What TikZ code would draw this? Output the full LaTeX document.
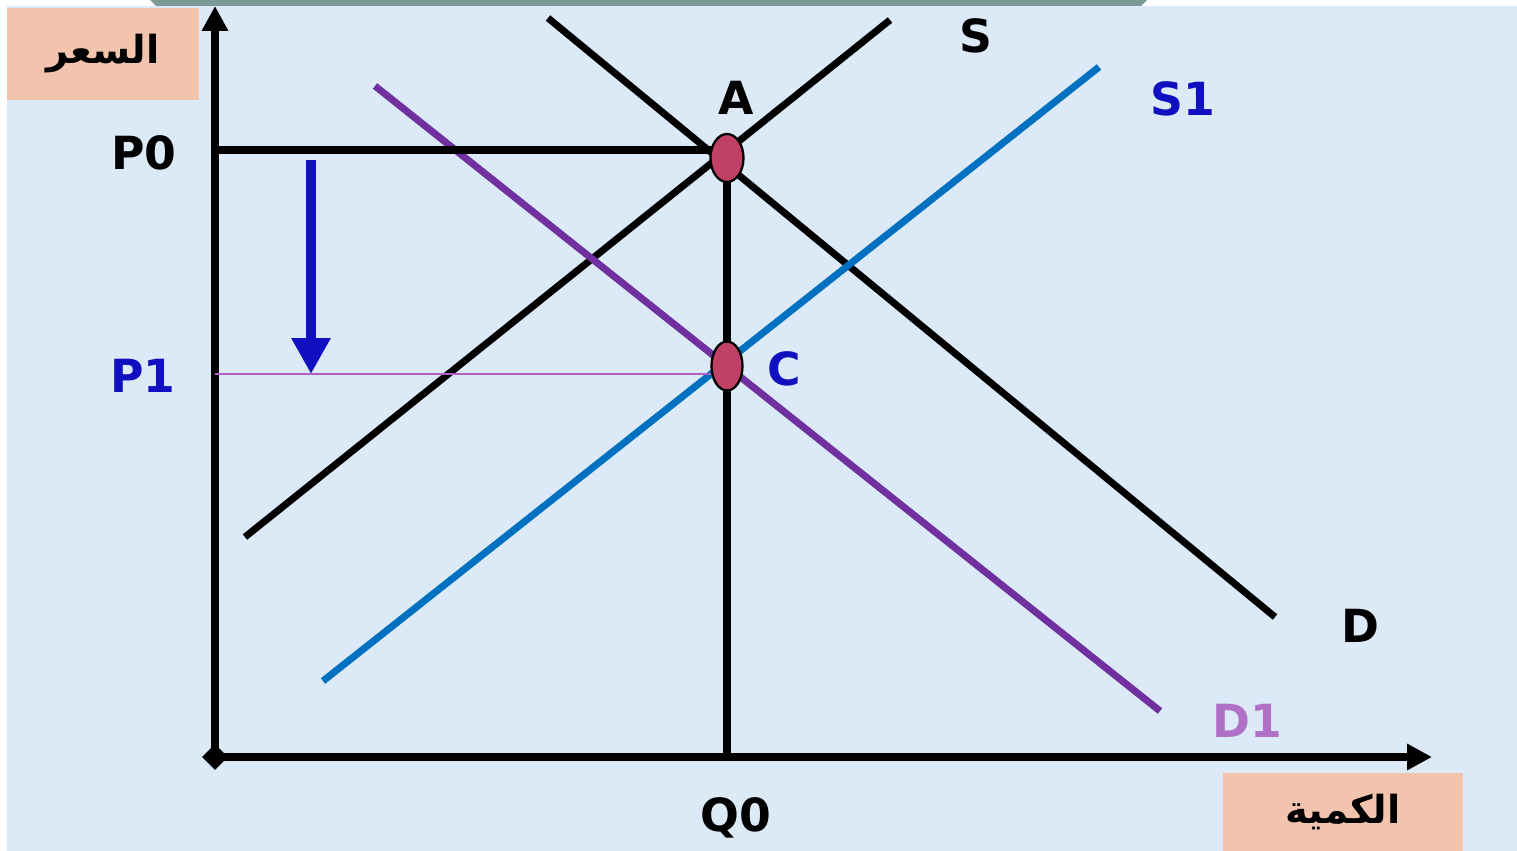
\documentclass[tikz,border=0pt]{standalone}
\usepackage{fontspec}
\setmainfont{DejaVu Sans}
\newfontfamily\arabicfont[Script=Arabic]{DejaVu Sans}
\TeXXeTstate=1
\usetikzlibrary{arrows.meta,positioning,shapes.geometric}
\definecolor{bgblue}{HTML}{DCE9F6}
\definecolor{topbar}{HTML}{7C9A97}
\definecolor{peach}{HTML}{F2C4AE}
\definecolor{sone}{HTML}{0070C0}
\definecolor{done}{HTML}{7030A0}
\definecolor{labblue}{HTML}{1010C0}
\definecolor{labpurple}{HTML}{B070C8}
\definecolor{pthin}{HTML}{B060C8}
\definecolor{pointred}{HTML}{C04068}
\begin{document}
\begin{tikzpicture}[x=0.02cm,y=-0.02cm,
every node/.style={font=\fontsize{26}{30}\selectfont\bfseries},
axis/.style={line width=4.6pt,-{Triangle[length=0.5cm,width=0.5cm]}},
curve/.style={line width=4pt},
eqpoint/.style={ellipse,draw,line width=1.3pt,fill=pointred,minimum width=0.66cm,minimum height=0.96cm,inner sep=0pt},
peachbox/.style={fill=peach,draw=none,inner sep=0pt,font=\fontsize{22}{26}\selectfont\bfseries\arabicfont}]
\useasboundingbox (0,0) rectangle (1517,851);
% background
\fill[bgblue] (7,6) rectangle (1517,851);
\fill[topbar] (150,0) -- (1147,0) -- (1141,6) -- (156,6) -- cycle;
% axis labels
\node[peachbox,minimum width=3.84cm,minimum height=1.86cm] (price) at (103,54) {\beginR السعر\endR};
\node[peachbox,minimum width=4.8cm,minimum height=1.56cm] (qty) at (1343,812) {\beginR الكمية\endR};
% axes
\node[diamond,fill=black,minimum size=0.52cm,inner sep=0pt] (O) at (215,757) {};
\coordinate (Ytop) at (215,6);
\coordinate (Xend) at (1432,757);
\draw[axis] (O.center) -- (Ytop);
\draw[axis] (O.center) -- (Xend);
% curves
\coordinate (S-lo) at (245,537);
\coordinate (S-hi) at (890,20);
\coordinate (D-hi) at (548,18);
\coordinate (D-lo) at (1275,617);
\coordinate (S1-lo) at (323,681);
\coordinate (S1-hi) at (1099,67);
\coordinate (D1-hi) at (375,86);
\coordinate (D1-lo) at (1160,711);
\draw[curve,black] (S-lo) -- (S-hi);
\draw[curve,black] (D-hi) -- (D-lo);
\draw[curve,sone] (S1-lo) -- (S1-hi);
\draw[curve,done] (D1-hi) -- (D1-lo);
% price lines
\coordinate (P0-ax) at (215,150);
\coordinate (P1-ax) at (215,374);
\coordinate (Q0-ax) at (727,757);
\draw[line width=1pt,pthin] (P1-ax) -- (727,374);
\draw[curve,black] (P0-ax) -- (727,150);
\draw[curve,black] (727,160) -- (Q0-ax);
% price drop
\coordinate (drop-s) at (311,160);
\coordinate (drop-e) at (311,374);
\draw[line width=5.5pt,labblue,-{Triangle[length=0.72cm,width=0.74cm]}] (drop-s) -- (drop-e);
% equilibria
\node[eqpoint] (A) at (727,158) {};
\node[eqpoint,minimum width=0.62cm,minimum height=0.98cm] (C) at (727,366) {};
% labels
\node (Slab) at (976,36) {S};
\node (Alab) at (736,98) {A};
\node[labblue] (S1lab) at (1183,99) {S1};
\node (P0lab) at (144,153) {P0};
\node[labblue] (P1lab) at (143,376) {P1};
\node[labblue] (Clab) at (784,369) {C};
\node (Dlab) at (1360,626) {D};
\node[labpurple] (D1lab) at (1247,721) {D1};
\node (Q0lab) at (736,818) {Q0};
\end{tikzpicture}
\end{document}
